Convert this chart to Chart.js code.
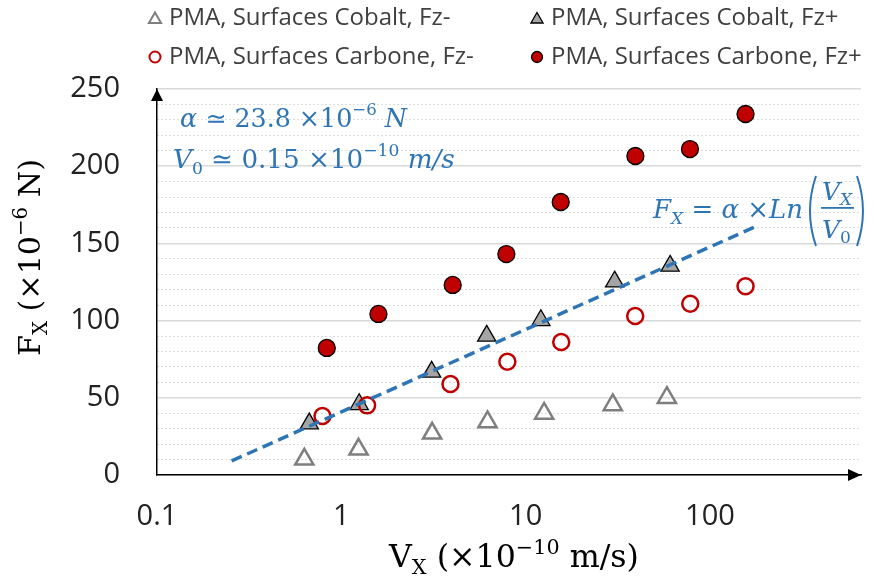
<!DOCTYPE html>
<html>
<head>
<meta charset="utf-8">
<script src="https://cdn.jsdelivr.net/npm/chart.js@4.4.1/dist/chart.umd.min.js"></script>
<style>
  html, body { margin: 0; padding: 0; background: #fff; }
  #box { width: 874px; height: 584px; position: relative; }
</style>
</head>
<body>
<div id="box"><canvas id="grafico" width="874" height="584"></canvas></div>
<script>
// --- Données ---
const vCobaltMoins = [0.63, 1.24, 3.11, 6.21, 12.6, 29.7, 58.4];
const fCobaltMoins = [10.2, 16.6, 27.0, 34.4, 39.9, 45.4, 50.1];

const vCobaltPlus = [0.67, 1.25, 3.09, 6.15, 12.1, 30.4, 60.8];
const fCobaltPlus = [33.3, 45.8, 66.8, 90.1, 100.2, 125.2, 135.4];

const vCarboneMoins = [0.79, 1.38, 3.91, 7.96, 15.6, 39.3, 78.2, 156];
const fCarboneMoins = [38.2, 45.1, 58.9, 73.4, 86.1, 103.0, 110.9, 122.2];

const vCarbonePlus = [0.834, 1.59, 4.02, 7.86, 15.5, 39.4, 77.9, 156];
const fCarbonePlus = [82.3, 104.3, 123.1, 143.1, 176.8, 206.6, 211.1, 233.8];

// droite d'ajustement (extrémités)
const vFit = [0.254, 174.5];
const fFit = [9.1, 160.6];

const xTicks = [0.1, 1, 10, 100];
const xTickLabels = ["0.1", "1", "10", "100"];
const yTicks = [0, 50, 100, 150, 200, 250];

const labels = [
  "PMA, Surfaces Cobalt, Fz-",
  "PMA, Surfaces Cobalt, Fz+",
  "PMA, Surfaces Carbone, Fz-",
  "PMA, Surfaces Carbone, Fz+"
];

const bleu = "#2E75B6";
const rouge = "#C00000";
const serif = "'DejaVu Serif'";

function pts(xs, ys) {
  return xs.map((x, i) => ({ x: x, y: ys[i] }));
}

// texte en morceaux (indices, exposants), taille ajustée à une largeur
function police(p, k) {
  return (p.i ? "italic " : "") + (p.s * k).toFixed(2) + "px " + serif;
}
function largeur(ctx, parts, k) {
  let w = 0;
  parts.forEach(p => { ctx.font = police(p, k); w += ctx.measureText(p.t).width; });
  return w;
}
function morceaux(ctx, x, y, parts, cible) {
  const k = cible ? cible / largeur(ctx, parts, 1) : 1;
  let cx = x;
  parts.forEach(p => {
    ctx.font = police(p, k);
    ctx.fillText(p.t, cx, y + (p.dy || 0) * k);
    cx += ctx.measureText(p.t).width;
  });
  return cx;
}

function marqueur(ctx, style, x, y, r, fill, stroke, lw) {
  ctx.save();
  ctx.beginPath();
  if (style === "triangle") {
    ctx.moveTo(x, y - r);
    ctx.lineTo(x + r * 0.866, y + r / 2);
    ctx.lineTo(x - r * 0.866, y + r / 2);
    ctx.closePath();
  } else {
    ctx.arc(x, y, r, 0, Math.PI * 2);
  }
  if (fill && fill !== "transparent") { ctx.fillStyle = fill; ctx.fill(); }
  ctx.lineWidth = lw;
  ctx.strokeStyle = stroke;
  ctx.stroke();
  ctx.restore();
}

/* --- légende, flèches, titres et formules --- */
const decor = {
  id: "decor",
  afterDraw(chart) {
    const ctx = chart.ctx;
    const a = chart.chartArea;
    ctx.save();

    // légende en 2 x 2
    const posLeg = [[155, 18], [537, 18], [155, 57], [537, 57]];
    chart.data.datasets.slice(0, 4).forEach((ds, i) => {
      const [mx, my] = posLeg[i];
      const style = ds.pointStyle;
      const r = style === "triangle" ? 7 : 5.5;
      marqueur(ctx, style, mx, my + (style === "triangle" ? 1.5 : 0), r,
        ds.backgroundColor, ds.borderColor, Math.min(ds.borderWidth, 2));
      ctx.fillStyle = "#404040";
      ctx.font = "24px 'Open Sans'";
      ctx.textBaseline = "middle";
      ctx.textAlign = "left";
      ctx.fillText(ds.label, mx + 14, my);
    });

    // flèches des axes
    ctx.fillStyle = "#000";
    ctx.beginPath();
    ctx.moveTo(a.left, a.top);
    ctx.lineTo(a.left - 6, a.top + 12);
    ctx.lineTo(a.left + 6, a.top + 12);
    ctx.closePath();
    ctx.fill();
    ctx.beginPath();
    ctx.moveTo(a.right, a.bottom);
    ctx.lineTo(a.right - 13, a.bottom - 6);
    ctx.lineTo(a.right - 13, a.bottom + 6);
    ctx.closePath();
    ctx.fill();

    // titres des axes
    ctx.textBaseline = "alphabetic";
    ctx.textAlign = "left";
    ctx.fillStyle = "#000";
    const titreX = [
      { t: "V", s: 26 }, { t: "X", s: 17, dy: 6 }, { t: " (×10", s: 26 },
      { t: "−10", s: 17, dy: -11 }, { t: " m/s)", s: 26 }
    ];
    morceaux(ctx, 514 - 125, 567, titreX, 250);

    const titreY = [
      { t: "F", s: 26 }, { t: "X", s: 17, dy: 6 }, { t: " (×10", s: 26 },
      { t: "−6", s: 17, dy: -11 }, { t: " N)", s: 26 }
    ];
    ctx.save();
    ctx.translate(40, 258);
    ctx.rotate(-Math.PI / 2);
    morceaux(ctx, -98, 0, titreY, 197);
    ctx.restore();

    // formules en bleu
    ctx.fillStyle = bleu;
    ctx.strokeStyle = bleu;
    morceaux(ctx, 180, 127, [
      { t: "α", s: 26, i: true }, { t: " ≃ 23.8 ×10", s: 26 }, { t: "−6", s: 17, dy: -12 },
      { t: " N", s: 26, i: true }
    ], 227);
    morceaux(ctx, 173, 168, [
      { t: "V", s: 26, i: true }, { t: "0", s: 17, dy: 6 }, { t: " ≃ 0.15 ×10", s: 26 },
      { t: "−10", s: 17, dy: -12 }, { t: " m/s", s: 26, i: true }
    ], 282);
    const fx = morceaux(ctx, 653, 218, [
      { t: "F", s: 26, i: true }, { t: "X", s: 17, i: true, dy: 6 }, { t: " = ", s: 26 },
      { t: "α", s: 26, i: true }, { t: " ×", s: 26 }, { t: "Ln", s: 26, i: true }
    ], 150);
    // grandes parenthèses
    ctx.lineWidth = 2;
    ctx.beginPath();
    ctx.moveTo(fx + 13, 176);
    ctx.quadraticCurveTo(fx + 1, 211, fx + 13, 246);
    ctx.stroke();
    ctx.beginPath();
    ctx.moveTo(fx + 54, 176);
    ctx.quadraticCurveTo(fx + 66, 211, fx + 54, 246);
    ctx.stroke();
    morceaux(ctx, fx + 19, 200, [{ t: "V", s: 25, i: true }, { t: "X", s: 17, i: true, dy: 5 }]);
    ctx.fillRect(fx + 18, 207, 33, 1.8);
    morceaux(ctx, fx + 19, 238, [{ t: "V", s: 25, i: true }, { t: "0", s: 17, dy: 5 }]);

    ctx.restore();
  }
};

const ctx = document.getElementById("grafico").getContext("2d");

new Chart(ctx, {
  type: "scatter",
  data: {
    datasets: [
      {
        label: labels[0],
        data: pts(vCobaltMoins, fCobaltMoins),
        pointStyle: "triangle",
        pointRadius: 10.5,
        backgroundColor: "transparent",
        borderColor: "#7F7F7F",
        borderWidth: 2.5,
        order: 4
      },
      {
        label: labels[1],
        data: pts(vCobaltPlus, fCobaltPlus),
        pointStyle: "triangle",
        pointRadius: 10.5,
        backgroundColor: "#A5A5A5",
        borderColor: "#000",
        borderWidth: 1.3,
        order: 3
      },
      {
        label: labels[2],
        data: pts(vCarboneMoins, fCarboneMoins),
        pointStyle: "circle",
        pointRadius: 8,
        backgroundColor: "transparent",
        borderColor: rouge,
        borderWidth: 2.5,
        order: 2
      },
      {
        label: labels[3],
        data: pts(vCarbonePlus, fCarbonePlus),
        pointStyle: "circle",
        pointRadius: 8.5,
        backgroundColor: rouge,
        borderColor: "#000",
        borderWidth: 1.3,
        order: 1
      },
      {
        label: "",
        data: pts(vFit, fFit),
        showLine: true,
        borderColor: bleu,
        borderWidth: 3.5,
        borderDash: [11, 6],
        pointRadius: 0,
        fill: false,
        order: 0
      }
    ]
  },
  options: {
    responsive: false,
    animation: false,
    events: [],
    layout: { padding: { top: 89, right: 8, left: 0, bottom: 0 } },
    plugins: {
      legend: { display: false },
      tooltip: { enabled: false }
    },
    scales: {
      x: {
        type: "logarithmic",
        min: 0.1,
        max: 660,
        afterBuildTicks: (scale) => { scale.ticks = xTicks.map(v => ({ value: v })); },
        afterFit: (scale) => { scale.height = 109; },
        grid: { display: false, drawTicks: false },
        border: { display: true, color: "#000", width: 1.5 },
        ticks: {
          autoSkip: false,
          maxRotation: 0,
          padding: 24,
          color: "#222",
          font: { family: "Open Sans", size: 29 },
          callback: (v, i) => xTickLabels[i]
        }
      },
      y: {
        min: 0,
        max: 250,
        afterBuildTicks: (scale) => { scale.ticks = yTicks.map(v => ({ value: v })); },
        afterFit: (scale) => { scale.width = 157; },
        grid: { color: "#D9D9D9", lineWidth: 1.5, drawTicks: false },
        border: { display: true, color: "#000", width: 1.5 },
        ticks: {
          padding: 37,
          color: "#222",
          font: { family: "Open Sans", size: 29 },
          callback: (v) => String(v)
        }
      },
      yMineur: {
        position: "right",
        min: 0,
        max: 250,
        ticks: { display: false, stepSize: 10 },
        afterFit: (scale) => { scale.width = 0; },
        grid: {
          drawTicks: false,
          lineWidth: 1,
          color: (c) => (c.tick && c.tick.value % 50 === 0) ? "transparent" : "#DDDDDD"
        },
        border: { display: false, dash: [2, 2] }
      }
    }
  },
  plugins: [decor]
});
</script>
</body>
</html>
